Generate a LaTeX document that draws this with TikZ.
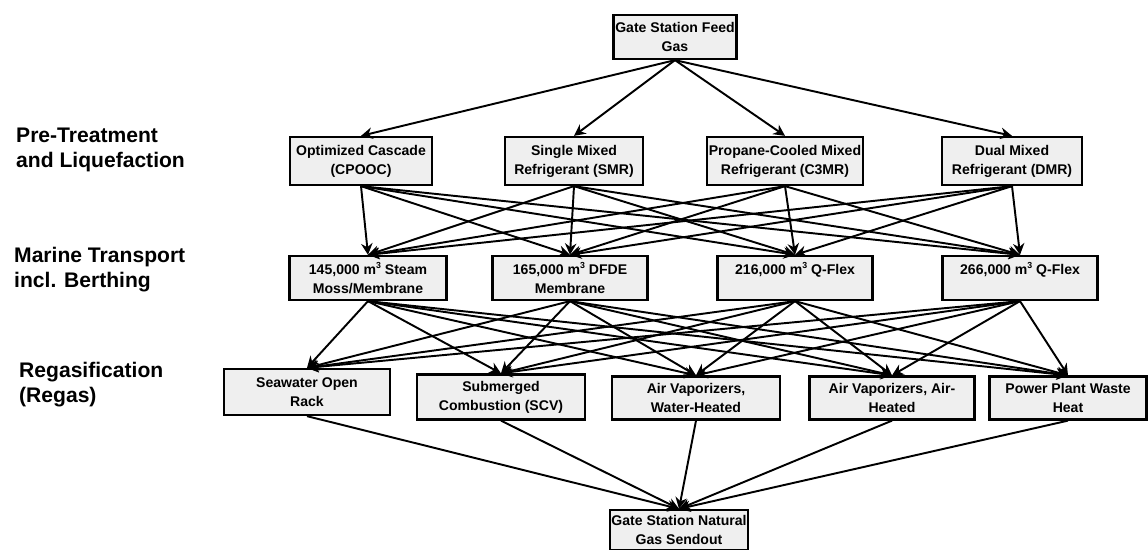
\documentclass[tikz,border=0pt]{standalone}
\usepackage{fontspec}
\setmainfont{Liberation Sans}
\usetikzlibrary{arrows.meta,positioning}
\definecolor{boxgray}{HTML}{EFEFEF}
\newcommand{\cubic}{m\raisebox{0.75ex}{\fontsize{5}{5}\selectfont 3}}

\begin{document}
\begin{tikzpicture}[
  x=0.02cm, y=-0.02cm,
  box/.style={draw, rectangle, line width=1.3pt, fill=boxgray,
              inner sep=1pt, align=center,
              font=\fontsize{8}{10.8}\selectfont\bfseries},
  stage/.style={anchor=west, align=left,
                font=\fontsize{12}{14.2}\selectfont\bfseries},
  arr/.style={-{Stealth[length=6.5pt,width=6.5pt]}, line width=1.1pt}
]
\useasboundingbox (0,0) rectangle (1148,550);

%% Stage labels
\node[stage] (lblliq) at (10,150) {Pre-Treatment\\and Liquefaction};
\node[stage] (lblship) at (8,270) {Marine Transport\\incl. Berthing};
\node[stage] (lblregas) at (13,385) {Regasification\\(Regas)};

%% Feed gas
\node[box, minimum width=2.4cm, minimum height=0.88cm]
  (feed) at (675,37) {Gate Station Feed\\Gas};

%% Row 1: liquefaction processes
\node[box, minimum width=2.84cm, minimum height=0.96cm]
  (cpooc) at (361,161) {Optimized Cascade\\(CPOOC)};
\node[box, minimum width=2.76cm, minimum height=0.96cm]
  (smr) at (574,161) {Single Mixed\\Refrigerant (SMR)};
\node[box, minimum width=3.0cm, minimum height=0.96cm]
  (c3mr) at (785,161) {Propane-Cooled Mixed\\Refrigerant (C3MR)};
\node[box, minimum width=2.8cm, minimum height=0.96cm]
  (dmr) at (1012,161) {Dual Mixed\\Refrigerant (DMR)};

%% Row 2: carriers
\node[box, minimum width=3.14cm, minimum height=0.88cm]
  (s145) at (368,278) {145,000 \cubic{} Steam\\Moss/Membrane};
\node[box, minimum width=3.1cm, minimum height=0.88cm]
  (s165) at (570,278) {165,000 \cubic{} DFDE\\Membrane};
\node[box, minimum width=3.1cm, minimum height=0.88cm]
  (s216) at (795,278) {216,000 \cubic{} Q-Flex\\\mbox{}};
\node[box, minimum width=3.1cm, minimum height=0.88cm]
  (s266) at (1020,278) {266,000 \cubic{} Q-Flex\\\mbox{}};

%% Row 3: vaporizers
\node[box, minimum width=3.32cm, minimum height=0.92cm]
  (sea) at (307,392) {Seawater Open\\Rack};
\node[box, minimum width=3.36cm, minimum height=0.9cm]
  (scv) at (501,397) {Submerged\\Combustion (SCV)};
\node[box, minimum width=3.36cm, minimum height=0.86cm]
  (awh) at (696,398) {Air Vaporizers,\\Water-Heated};
\node[box, minimum width=3.3cm, minimum height=0.86cm]
  (aah) at (892,398) {Air Vaporizers, Air-\\Heated};
\node[box, minimum width=3.14cm, minimum height=0.86cm]
  (ppw) at (1068,398) {Power Plant Waste\\Heat};

%% Sendout
\node[box, minimum width=2.44cm, minimum height=0.8cm]
  (send) at (679,530) {Gate Station Natural\\Gas Sendout};

%% Connectors
\foreach \b in {cpooc,smr,c3mr,dmr}
  \draw[arr] (feed.south) -- (\b.north);
\foreach \a in {cpooc,smr,c3mr,dmr}
  \foreach \b in {s145,s165,s216,s266}
    \draw[arr] (\a.south) -- (\b.north);
\foreach \a in {s145,s165,s216,s266}
  \foreach \b in {sea,scv,awh,aah,ppw}
    \draw[arr] (\a.south) -- (\b.north);
\foreach \a in {sea,scv,awh,aah,ppw}
  \draw[arr] (\a.south) -- (send.north);

\end{tikzpicture}
\end{document}
